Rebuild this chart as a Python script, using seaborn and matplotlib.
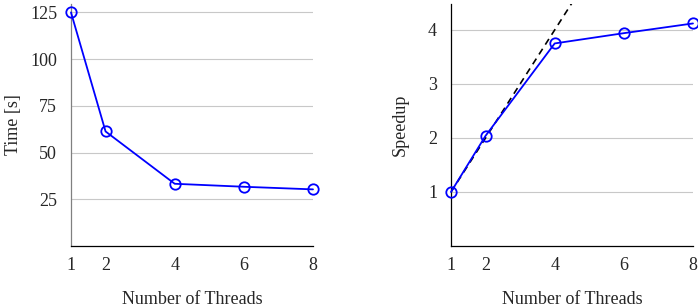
import pandas as pd
import matplotlib
matplotlib.use("Agg")
import matplotlib.pyplot as plt
import seaborn as sns

threads = [1, 2, 4, 6, 8]
time_s = [125, 61.3, 33.3, 31.7, 30.3]
speedup = [1.0, 2.04, 3.75, 3.94, 4.12]
ideal = [1, 2, 4, 6, 8]

df = pd.DataFrame({'threads': threads, 'time': time_s, 'speedup': speedup, 'ideal': ideal})

sns.set_theme(style='white')
plt.rcParams['font.family'] = ['Liberation Serif', 'DejaVu Serif']

fig = plt.figure(figsize=(6.98, 3.08), dpi=100)
ax1 = fig.add_axes([0.1017, 0.2013, 0.3467, 0.7857])
ax2 = fig.add_axes([0.6461, 0.2013, 0.3467, 0.7857])

line_kw = dict(color='#0000ff', lw=1.3, marker='o', markersize=7.5,
               markerfacecolor='none', markeredgecolor='#0000ff', markeredgewidth=1.3)

sns.lineplot(data=df, x='threads', y='time', ax=ax1, zorder=3, clip_on=False, **line_kw)
sns.lineplot(data=df, x='threads', y='ideal', ax=ax2, color='black', lw=1.2,
             linestyle=(0, (4, 3)), zorder=2)
sns.lineplot(data=df, x='threads', y='speedup', ax=ax2, zorder=3, clip_on=False, **line_kw)

ax1.set_ylim(0, 129.5)
ax1.set_yticks([25, 50, 75, 100, 125])
ax2.set_ylim(0, 4.48)
ax2.set_yticks([1, 2, 3, 4])

for ax, lab, spine_col, lpad in [(ax1, 'Time [s]', '#808080', 6), (ax2, 'Speedup', 'black', 14)]:
    ax.set_xlim(1, 8)
    ax.set_xticks(threads)
    ax.grid(axis='y', color='#c8c8c8', lw=0.8)
    ax.set_axisbelow(True)
    ax.spines['top'].set_visible(False)
    ax.spines['right'].set_visible(False)
    ax.spines['left'].set_color(spine_col)
    ax.spines['left'].set_linewidth(0.9)
    ax.spines['bottom'].set_color('black')
    ax.spines['bottom'].set_linewidth(0.9)
    ax.tick_params(axis='x', direction='inout', length=6, width=0.8, color='#999999',
                   labelsize=13, pad=5)
    ax.tick_params(axis='y', length=0, labelsize=13, pad=10)
    ax.set_xlabel('Number of Threads', fontsize=13, labelpad=12)
    ax.set_ylabel(lab, fontsize=13, labelpad=lpad)

fig.savefig('out.png', dpi=100)
